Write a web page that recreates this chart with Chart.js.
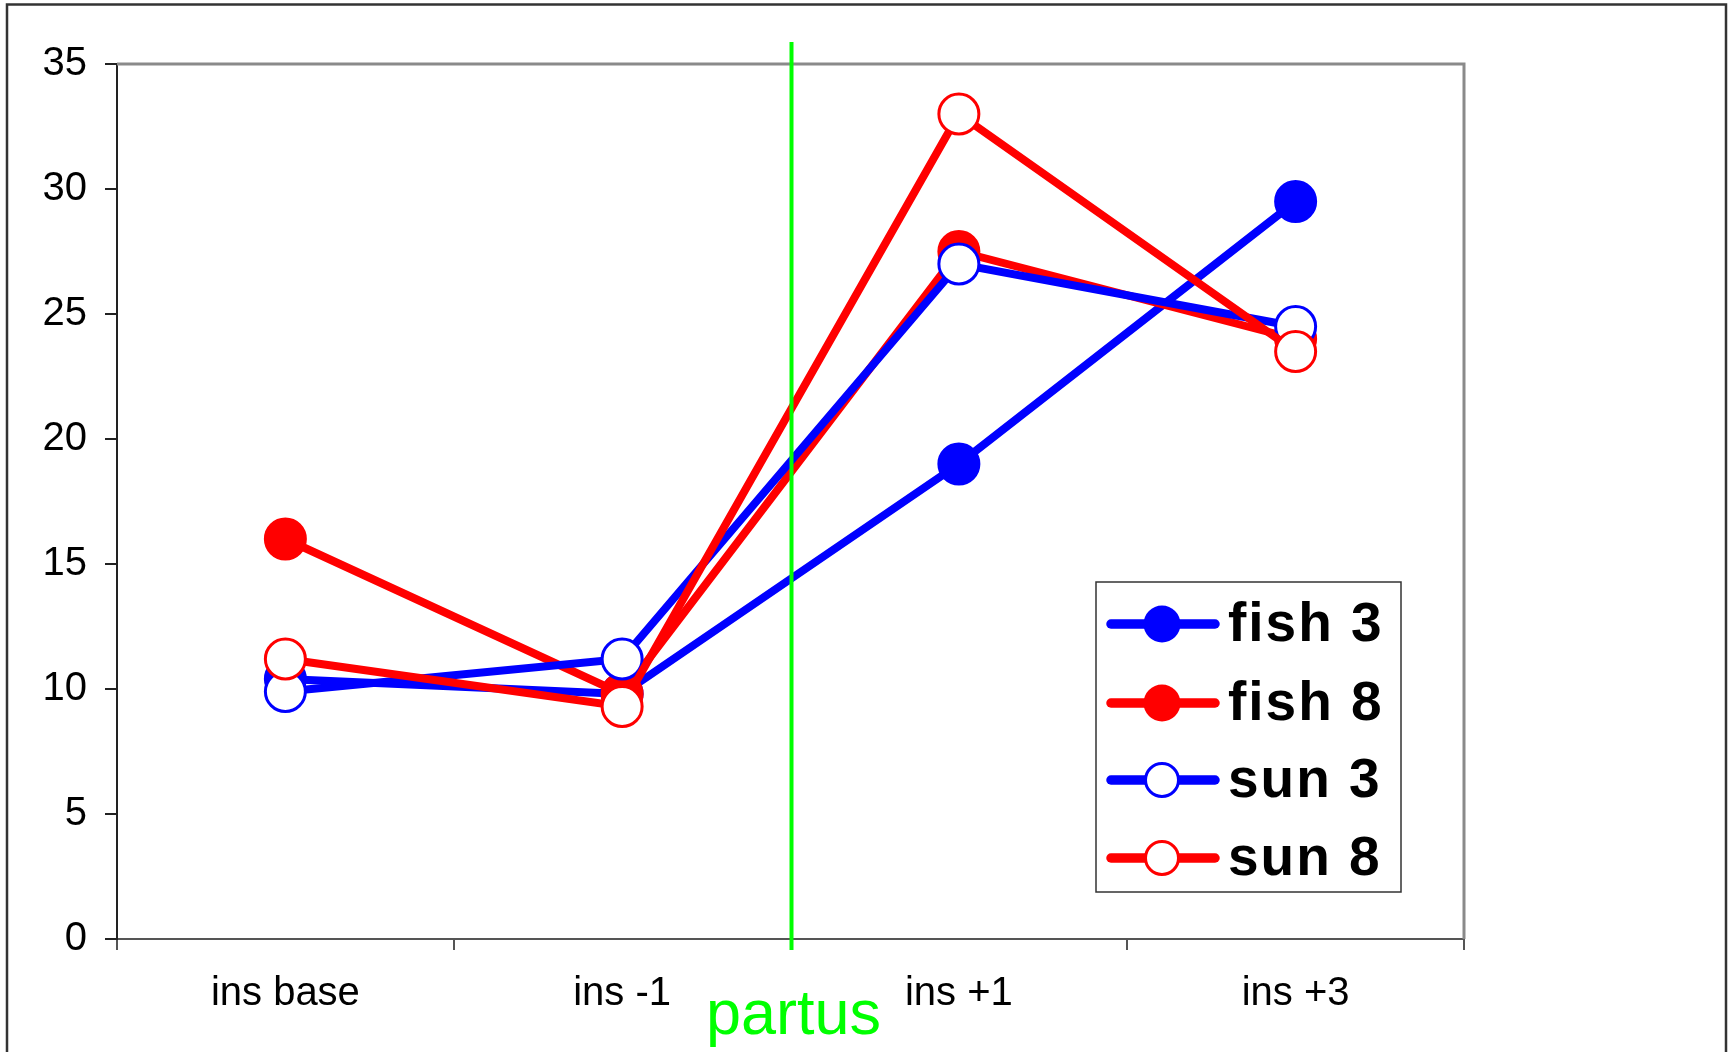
<!DOCTYPE html>
<html>
<head>
<meta charset="utf-8">
<script src="https://cdn.jsdelivr.net/npm/chart.js@4.4.1/dist/chart.umd.min.js"></script>
<style>
  html, body { margin: 0; padding: 0; background: #fff; }
  #wrap { position: relative; width: 1734px; height: 1052px; }
</style>
</head>
<body>
<div id="wrap"><canvas id="c" width="1734" height="1052"></canvas></div>
<script>
// Categories (time points) and the four series
const categories = ['ins base', 'ins -1', 'ins +1', 'ins +3'];
const fish3 = [10.4, 9.8, 19.0, 29.5];
const fish8 = [16.0, 9.8, 27.5, 24.0];
const sun3  = [9.9, 11.2, 27.0, 24.5];
const sun8  = [11.2, 9.3, 33.0, 23.5];
const seriesLabels = ['fish 3', 'fish 8', 'sun 3', 'sun 8'];
const yMin = 0, yMax = 35, yStep = 5;
const markerText = 'partus';
const markerAfterIndex = 1;   // vertical line sits between 'ins -1' and 'ins +1'

const BLUE = '#0000ff', RED = '#ff0000', GREEN = '#00ff00';
const FONT = "'Liberation Sans', Arial, sans-serif";

function series(label, data, color, filled, order) {
  return {
    label, data, order,
    borderColor: color,
    borderWidth: 8,
    backgroundColor: filled ? color : '#ffffff',
    pointBackgroundColor: filled ? color : '#ffffff',
    pointBorderColor: color,
    pointBorderWidth: 3,
    pointRadius: 20,
    pointHoverRadius: 20,
    tension: 0,
    fill: false,
    _filled: filled
  };
}

// Outer frame around the whole figure
const framePlugin = {
  id: 'frame',
  beforeDraw(chart) {
    const ctx = chart.ctx;
    ctx.save();
    ctx.fillStyle = '#fff';
    ctx.fillRect(0, 0, chart.width, chart.height);
    ctx.strokeStyle = '#333';
    ctx.lineWidth = 2.5;
    ctx.strokeRect(7, 4.5, 1719, 1200);
    ctx.restore();
  }
};

// Grey top/right edges of the plot area
const plotBoxPlugin = {
  id: 'plotBox',
  beforeDatasetsDraw(chart) {
    const { ctx, chartArea: a } = chart;
    ctx.save();
    ctx.strokeStyle = '#8a8a8a';
    ctx.lineWidth = 3;
    ctx.beginPath();
    ctx.moveTo(a.left, a.top);
    ctx.lineTo(a.right, a.top);
    ctx.lineTo(a.right, a.bottom);
    ctx.stroke();
    ctx.restore();
  }
};

// Vertical event line with its label
const eventPlugin = {
  id: 'eventLine',
  afterDatasetsDraw(chart) {
    const { ctx, scales } = chart;
    const x = (scales.x.getPixelForValue(markerAfterIndex) + scales.x.getPixelForValue(markerAfterIndex + 1)) / 2 + 1;
    ctx.save();
    ctx.strokeStyle = GREEN;
    ctx.lineWidth = 4;
    ctx.beginPath();
    ctx.moveTo(x, 42);
    ctx.lineTo(x, chart.chartArea.bottom + 11);
    ctx.stroke();
    ctx.fillStyle = GREEN;
    ctx.font = `63px ${FONT}`;
    ctx.textAlign = 'center';
    ctx.textBaseline = 'alphabetic';
    ctx.fillText(markerText, x + 2, 1034);
    ctx.restore();
  }
};

// Boxed legend inside the plot
const legendPlugin = {
  id: 'boxLegend',
  afterDatasetsDraw(chart) {
    const ctx = chart.ctx;
    const box = { x: 1096, y: 582, w: 305, h: 310 };
    ctx.save();
    ctx.fillStyle = '#fff';
    ctx.fillRect(box.x, box.y, box.w, box.h);
    ctx.strokeStyle = '#333';
    ctx.lineWidth = 1.5;
    ctx.strokeRect(box.x, box.y, box.w, box.h);
    const rows = [624, 703, 780, 858];
    chart.data.datasets.forEach((ds, i) => {
      const y = rows[i];
      ctx.strokeStyle = ds.borderColor;
      ctx.lineWidth = 9.5;
      ctx.lineCap = 'round';
      ctx.beginPath();
      ctx.moveTo(1111, y);
      ctx.lineTo(1215, y);
      ctx.stroke();
      ctx.beginPath();
      ctx.arc(1162, y, ds._filled ? 18.5 : 16.5, 0, Math.PI * 2);
      ctx.fillStyle = ds.pointBackgroundColor;
      ctx.fill();
      if (!ds._filled) {
        ctx.lineWidth = 3;
        ctx.strokeStyle = ds.borderColor;
        ctx.stroke();
      }
      ctx.fillStyle = '#000';
      ctx.font = `bold 55px ${FONT}`;
      ctx.textAlign = 'left';
      ctx.textBaseline = 'middle';
      ctx.letterSpacing = '2px';
      ctx.fillText(ds.label, 1228, y + 2);
    });
    ctx.restore();
  }
};

new Chart(document.getElementById('c'), {
  type: 'line',
  data: {
    labels: categories,
    datasets: [
      series(seriesLabels[0], fish3, BLUE, true, 3),
      series(seriesLabels[1], fish8, RED, true, 2),
      series(seriesLabels[2], sun3, BLUE, false, 1),
      series(seriesLabels[3], sun8, RED, false, 0)
    ]
  },
  options: {
    responsive: false,
    animation: false,
    devicePixelRatio: 1,
    layout: { padding: { left: 0, top: 64, right: 270, bottom: 0 } },
    plugins: { legend: { display: false }, tooltip: { enabled: false } },
    scales: {
      x: {
        type: 'category',
        offset: true,
        grid: { offset: true, drawOnChartArea: false, drawTicks: true, tickLength: 11, color: '#555', lineWidth: 2 },
        border: { display: true, color: '#555', width: 2 },
        ticks: { color: '#000', font: { family: FONT, size: 40 }, padding: 20, maxRotation: 0 },
        afterFit(s) { s.height = 113; }
      },
      y: {
        min: yMin, max: yMax,
        grid: { drawOnChartArea: false, drawTicks: true, tickLength: 12, color: '#222', lineWidth: 2 },
        border: { display: true, color: '#222', width: 2 },
        ticks: { stepSize: yStep, color: '#000', font: { family: FONT, size: 40 }, padding: 18 },
        afterFit(s) { s.width = 117; }
      }
    }
  },
  plugins: [framePlugin, plotBoxPlugin, eventPlugin, legendPlugin]
});
</script>
</body>
</html>
